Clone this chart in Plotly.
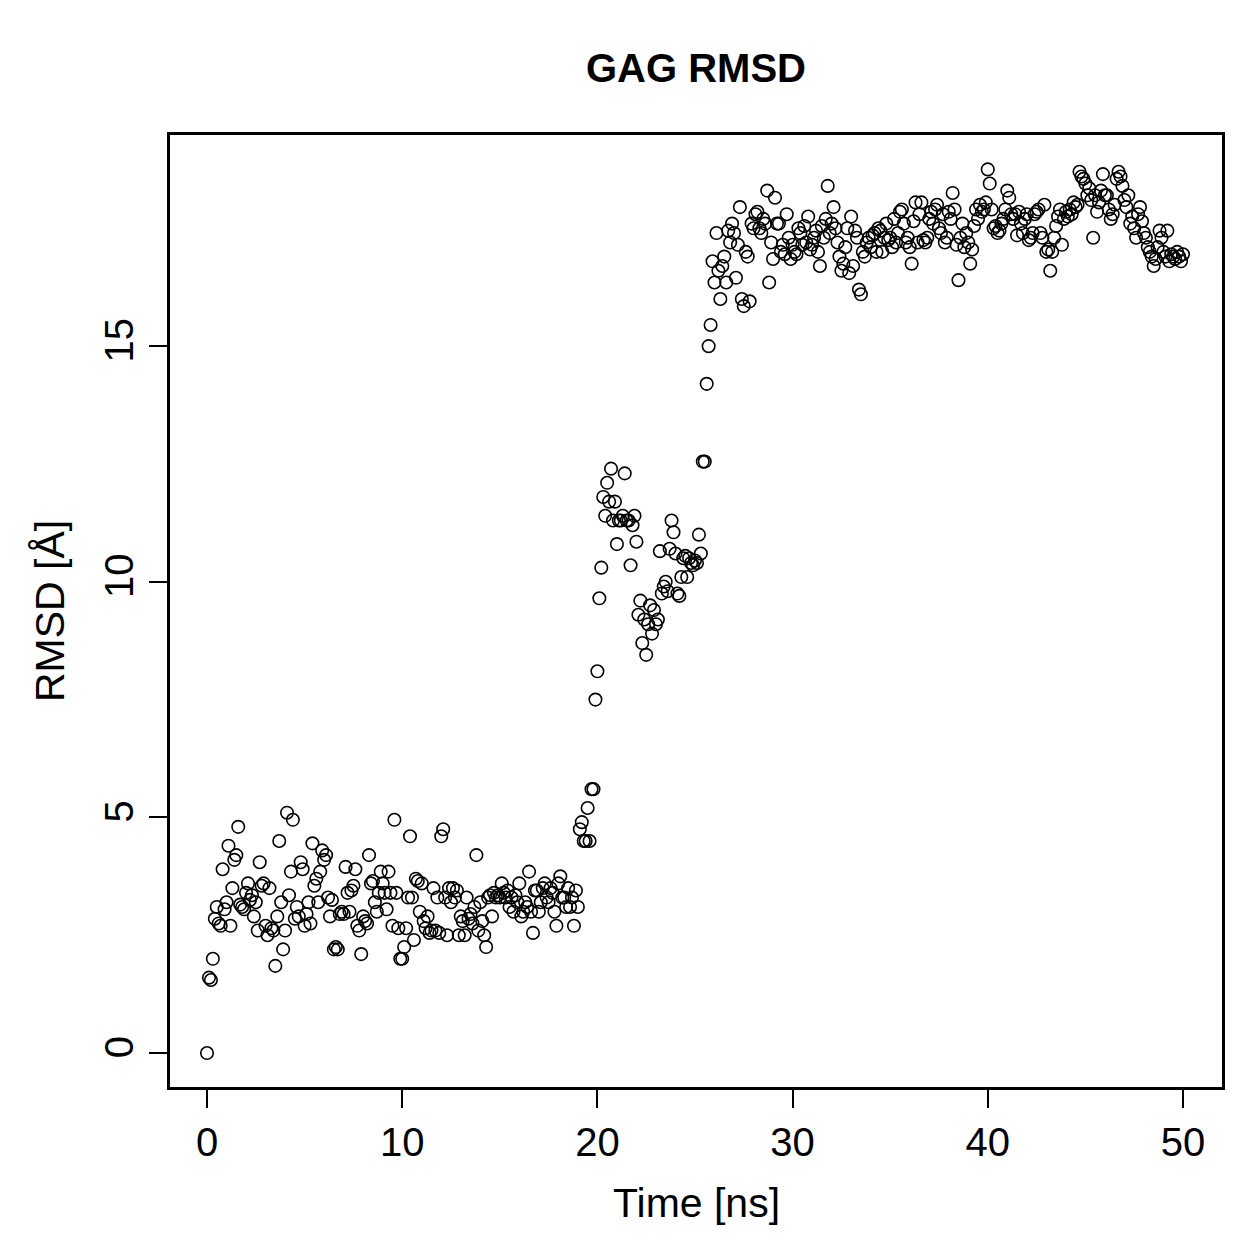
import plotly.graph_objects as go

# RMSD values (Å), one frame every 0.1 ns, 0 .. 50 ns
rmsd_00_10 = [
    0.00, 1.60, 1.55, 2.00, 2.85, 3.10, 2.75, 2.70, 3.90, 3.05,
    3.20, 4.40, 2.70, 3.50, 4.10, 4.20, 4.80, 3.15, 3.10, 3.05,
    3.40, 3.60, 3.25, 3.35, 2.90, 3.20, 2.60, 4.05, 3.55, 3.60,
    2.70, 2.50, 3.50, 2.65, 2.60, 1.85, 2.90, 4.50, 3.20, 2.20,
    2.60, 5.10, 3.35, 3.85, 4.95, 2.85, 3.10, 2.90, 4.05, 3.90,
    2.70, 2.95, 3.20, 2.75, 4.45, 3.55, 3.70, 3.20, 3.85, 4.30,
    4.10, 4.20, 3.30, 2.90, 3.25, 2.20, 2.25, 2.20, 2.95, 3.00,
    2.95, 3.95, 3.40, 3.00, 3.45, 3.55, 3.90, 2.70, 2.60, 2.10,
    2.90, 2.80, 2.75, 4.20, 3.60, 3.65, 3.20, 3.00, 3.40, 3.85,
    3.60, 3.40, 3.05, 3.85, 3.40, 2.70, 4.95, 3.40, 2.65, 2.00,
]
rmsd_10_20 = [
    2.00, 2.25, 2.65, 3.30, 4.60, 3.30, 2.40, 3.70, 3.65, 3.00,
    3.60, 2.80, 2.65, 2.90, 2.55, 2.60, 3.50, 2.60, 3.30, 2.55,
    4.60, 4.75, 3.30, 2.50, 3.50, 3.20, 3.50, 3.30, 3.45, 2.50,
    2.90, 2.80, 2.50, 3.30, 2.85, 2.95, 2.75, 3.10, 4.20, 2.60,
    3.20, 2.80, 2.50, 2.25, 3.30, 3.35, 2.90, 3.40, 3.30, 3.35,
    3.30, 3.60, 3.40, 3.30, 3.45, 3.10, 3.30, 3.00, 3.35, 3.20,
    3.60, 2.90, 3.00, 3.20, 3.10, 3.85, 3.00, 2.55, 3.45, 3.45,
    3.00, 3.20, 3.50, 3.60, 3.30, 3.20, 3.50, 3.40, 3.00, 2.70,
    3.60, 3.75, 3.30, 3.30, 3.10, 3.50, 3.10, 3.30, 2.70, 3.45,
    3.10, 4.75, 4.90, 4.50, 4.50, 5.20, 4.50, 5.60, 5.60, 7.50,
]
rmsd_20_30 = [
    8.10, 9.65, 10.30, 11.80, 11.40, 12.10, 11.70, 12.40, 11.30, 11.70,
    10.80, 11.30, 11.30, 11.40, 12.30, 11.30, 11.30, 10.35, 11.20, 11.40,
    10.85, 9.30, 9.60, 8.70, 9.20, 8.45, 9.10, 9.50, 8.90, 9.40,
    9.10, 9.20, 10.65, 9.75, 9.90, 10.00, 9.80, 10.70, 11.30, 11.05,
    10.60, 9.75, 9.70, 10.10, 10.50, 10.55, 10.10, 10.50, 10.40, 10.35,
    10.45, 10.40, 11.00, 10.60, 12.55, 12.55, 14.20, 15.00, 15.45, 16.80,
    16.35, 17.40, 16.60, 16.00, 16.70, 16.90, 16.35, 17.45, 17.20, 17.60,
    17.40, 16.45, 17.15, 17.95, 16.00, 15.85, 17.00, 16.90, 15.95, 17.60,
    17.50, 17.80, 17.85, 17.50, 17.40, 17.70, 17.60, 18.30, 16.35, 17.20,
    16.85, 18.15, 17.60, 17.60, 17.00, 17.15, 16.95, 17.80, 17.30, 16.85,
]
rmsd_30_40 = [
    17.15, 17.00, 16.95, 17.50, 17.40, 17.15, 17.55, 17.20, 17.75, 17.05,
    17.15, 17.30, 17.45, 17.00, 16.70, 17.55, 17.30, 17.70, 18.40, 17.40,
    17.60, 17.95, 17.50, 17.20, 16.90, 16.60, 16.75, 17.10, 17.50, 16.55,
    17.75, 16.70, 17.45, 17.30, 16.20, 16.10, 17.00, 16.90, 17.20, 17.30,
    17.10, 17.35, 17.40, 17.00, 17.50, 17.45, 17.00, 17.30, 17.60, 17.25,
    17.30, 17.10, 17.70, 17.20, 17.40, 17.85, 17.90, 17.60, 17.20, 17.30,
    17.10, 16.75, 17.65, 18.05, 17.20, 17.80, 18.05, 17.25, 17.20, 17.30,
    17.70, 17.85, 17.60, 17.90, 18.00, 17.50, 17.40, 17.80, 17.20, 17.30,
    17.85, 17.70, 18.25, 17.90, 17.15, 16.40, 17.30, 17.60, 17.10, 17.40,
    17.20, 16.75, 17.05, 17.55, 17.90, 17.70, 18.00, 17.85, 17.90, 18.05,
]
rmsd_40_50 = [
    18.75, 18.45, 17.90, 17.50, 17.55, 17.40, 17.45, 17.60, 17.70, 17.90,
    18.30, 18.15, 17.80, 17.70, 17.80, 17.35, 17.85, 17.60, 17.40, 17.70,
    17.80, 17.25, 17.30, 17.40, 17.80, 17.85, 17.90, 17.40, 17.30, 18.00,
    17.00, 17.05, 16.60, 17.00, 17.30, 17.55, 17.75, 17.90, 17.15, 17.70,
    17.85, 17.75, 17.90, 17.80, 18.05, 17.95, 18.00, 18.70, 18.60, 18.55,
    18.45, 18.20, 18.35, 18.10, 17.30, 18.20, 17.85, 18.05, 18.30, 18.65,
    18.20, 18.20, 17.90, 17.70, 17.80, 18.00, 18.55, 18.70, 18.60, 18.40,
    18.10, 17.95, 18.20, 17.60, 17.75, 17.50, 17.30, 17.80, 17.95, 17.65,
    17.40, 17.30, 17.10, 17.00, 16.90, 16.70, 16.85, 17.10, 17.45, 17.30,
    17.00, 16.90, 17.45, 16.80, 16.95, 16.90, 16.85, 17.00, 16.90, 16.80,
    16.95,
]
rmsd = rmsd_00_10 + rmsd_10_20 + rmsd_20_30 + rmsd_30_40 + rmsd_40_50
time_ns = [i / 10 for i in range(len(rmsd))]

x_ticks = [0, 10, 20, 30, 40, 50]
y_ticks = [0, 5, 10, 15]

title_text = "GAG RMSD"
x_label = "Time [ns]"
y_label = "RMSD [Å]"

FONT = "Liberation Sans, Arial, Helvetica, sans-serif"

fig = go.Figure()
fig.add_trace(go.Scatter(
    x=time_ns, y=rmsd, mode="markers",
    marker=dict(symbol="circle-open", size=12.5, color="black",
                line=dict(color="black", width=1.6)),
    showlegend=False, hoverinfo="x+y",
))

axis_common = dict(
    showgrid=False, zeroline=False, showline=True, linecolor="black",
    linewidth=2.5, mirror=True, ticks="outside", ticklen=18, tickwidth=2,
    tickcolor="black", tickfont=dict(family=FONT, size=40, color="black"),
)
fig.update_xaxes(range=[-1.896, 52.0], tickvals=x_ticks, ticktext=[str(v) for v in x_ticks],
                 **axis_common)
fig.update_yaxes(range=[-0.72, 19.48], tickvals=y_ticks, ticktext=[str(v) for v in y_ticks],
                 tickangle=-90, **axis_common)

fig.update_layout(
    width=1259, height=1259,
    margin=dict(l=170, r=37, t=135, b=172, pad=0),
    paper_bgcolor="white", plot_bgcolor="white",
    font=dict(family=FONT, color="black"),
    annotations=[
        dict(text="<b>" + title_text + "</b>", xref="paper", yref="paper",
             x=0.5, y=1.0704, xanchor="center", yanchor="middle", showarrow=False,
             font=dict(family=FONT, size=40, color="black")),
        dict(text=x_label, xref="paper", yref="paper",
             x=0.5, y=-0.1218, xanchor="center", yanchor="middle", showarrow=False,
             font=dict(family=FONT, size=41, color="black")),
        dict(text=y_label, xref="paper", yref="paper", textangle=-90,
             x=-0.114, y=0.5, xanchor="center", yanchor="middle", showarrow=False,
             font=dict(family=FONT, size=41, color="black")),
    ],
)

fig.write_html("out.html")
